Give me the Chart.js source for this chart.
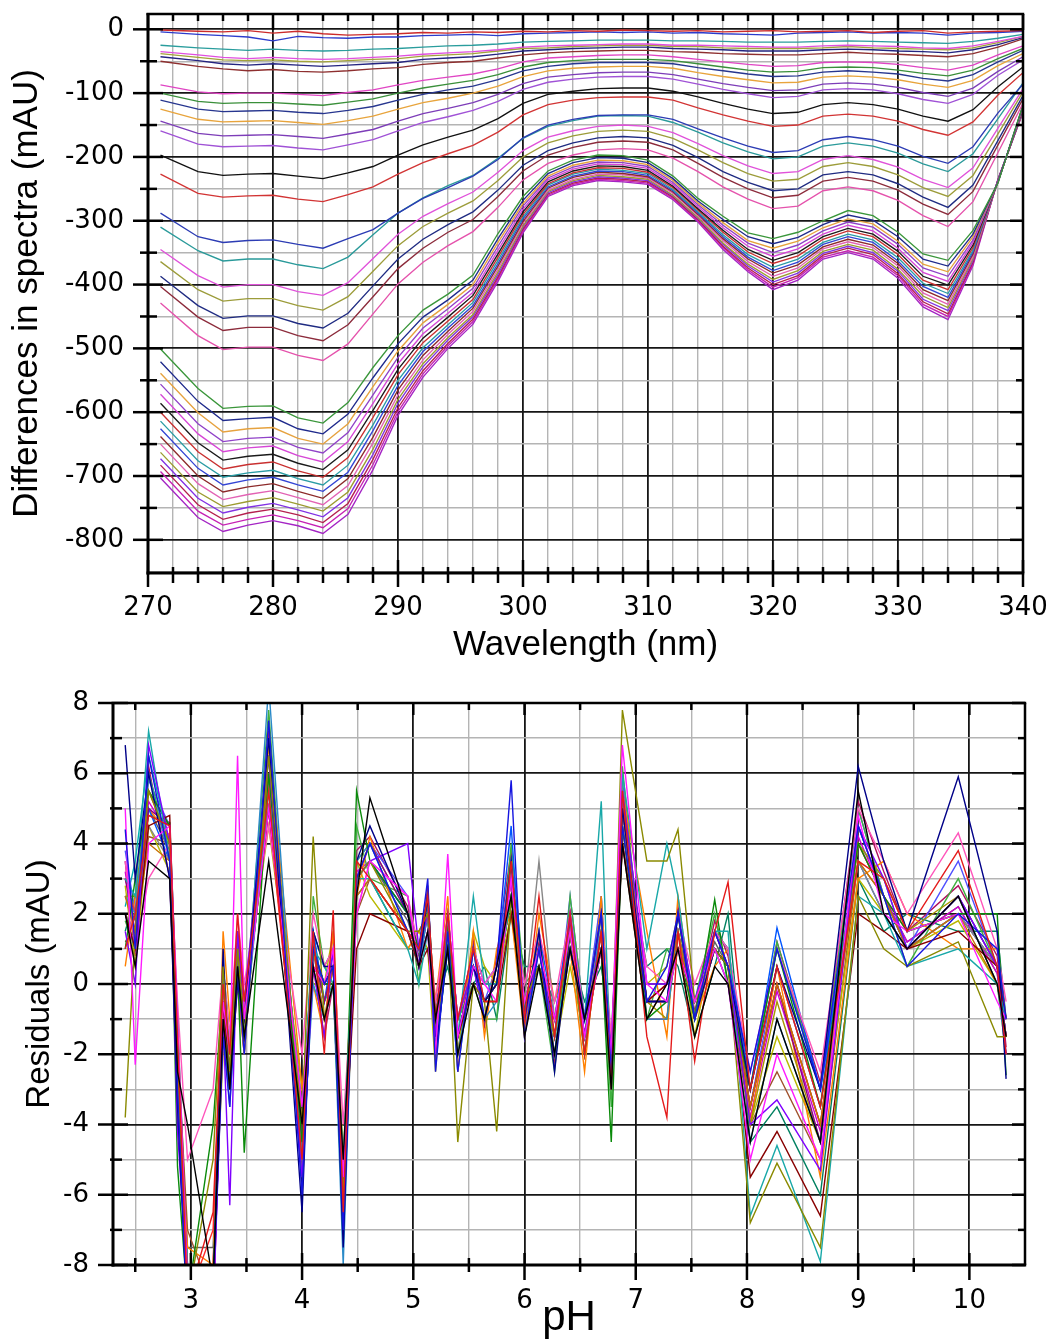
<!DOCTYPE html>
<html><head><meta charset="utf-8"><title>Differences in spectra and residuals</title>
<script src="https://cdn.jsdelivr.net/npm/chart.js@4.4.1/dist/chart.umd.min.js"></script>
<style>
html,body{margin:0;padding:0;background:#fff;}
#w{position:relative;width:1052px;height:1344px;overflow:hidden;background:#fff}
#c1{position:absolute;left:0;top:0}
#c2{position:absolute;left:0;top:690px}
</style></head><body><div id="w">
<canvas id="c1" width="1052" height="690"></canvas>
<canvas id="c2" width="1052" height="654"></canvas>
</div>
<script>
// ---------- top panel: wavelength (nm) and difference spectra (mAU) ----------
const WAVELENGTH = [271,274,276,278,280,282,284,286,288,290,292,294,296,298,300,302,304,306,308,310,312,314,316,318,320,322,324,326,328,330,332,334,336,338,340];

const D01 = [-1,-3,-4,-2,-6,-3,-7,-9,-8,-7,-5,-6,-4,-5,-3,-4,-2,-3,-1,-2,-3,-2,-4,-3,-2,-4,-3,-2,-5,-3,-2,-6,-4,-3,-2];
const D02 = [-4,-8,-10,-12,-18,-11,-13,-14,-12,-12,-10,-9,-8,-10,-7,-6,-5,-4,-5,-4,-6,-5,-7,-8,-9,-6,-5,-4,-6,-5,-6,-9,-6,-5,-3];
const D03 = [-25,-29,-31,-33,-31,-33,-34,-33,-31,-30,-28,-26,-25,-23,-20,-19,-18,-17,-17,-17,-18,-18,-19,-20,-20,-20,-19,-18,-19,-20,-21,-22,-19,-14,-8];
const D04 = [-35,-40,-44,-46,-44,-46,-47,-46,-44,-42,-39,-37,-35,-32,-28,-26,-25,-24,-23,-23,-25,-25,-26,-27,-28,-28,-26,-25,-26,-27,-29,-30,-26,-19,-11];
const D05 = [-38,-44,-48,-49,-48,-50,-51,-49,-47,-46,-42,-40,-38,-34,-30,-29,-27,-26,-25,-25,-27,-27,-29,-30,-30,-30,-29,-27,-29,-30,-31,-32,-29,-21,-11];
const D06 = [-43,-49,-54,-56,-54,-56,-58,-56,-54,-52,-47,-45,-43,-39,-34,-32,-30,-29,-28,-28,-30,-31,-32,-34,-34,-34,-32,-31,-32,-34,-35,-37,-32,-24,-13];
const D07 = [-50,-58,-62,-65,-63,-66,-67,-65,-62,-60,-55,-52,-50,-45,-40,-37,-35,-34,-33,-33,-35,-36,-38,-39,-40,-40,-38,-36,-38,-39,-41,-43,-38,-28,-15];
const D08 = [-87,-98,-101,-100,-100,-102,-104,-99,-95,-87,-80,-75,-70,-62,-51,-45,-43,-41,-40,-40,-43,-47,-51,-55,-58,-57,-52,-51,-52,-55,-60,-64,-56,-40,-26];
const D09 = [-100,-113,-116,-115,-115,-117,-119,-114,-109,-100,-92,-86,-80,-71,-59,-52,-49,-47,-47,-47,-49,-54,-59,-64,-67,-66,-60,-59,-60,-64,-69,-73,-64,-46,-30];
const D10 = [-111,-125,-129,-128,-127,-130,-132,-127,-121,-111,-102,-95,-89,-79,-65,-58,-54,-52,-52,-52,-54,-60,-65,-70,-74,-73,-67,-65,-67,-70,-77,-81,-71,-51,-33];
const D11 = [-125,-141,-145,-144,-143,-146,-149,-143,-136,-125,-115,-108,-100,-89,-74,-65,-61,-59,-58,-58,-61,-68,-74,-79,-84,-83,-75,-73,-75,-79,-86,-91,-80,-57,-38];
const D12 = [-144,-163,-167,-166,-165,-168,-171,-164,-157,-144,-132,-124,-115,-102,-85,-75,-71,-68,-67,-67,-71,-78,-85,-91,-96,-95,-86,-84,-86,-91,-99,-105,-92,-66,-43];
const D13 = [-159,-180,-184,-183,-182,-186,-189,-181,-173,-159,-146,-137,-127,-113,-94,-83,-78,-75,-74,-74,-78,-86,-94,-101,-107,-105,-95,-93,-95,-101,-110,-116,-102,-72,-48];
const D14 = [-197,-223,-229,-227,-226,-230,-234,-225,-215,-197,-181,-169,-158,-140,-116,-102,-97,-93,-92,-92,-97,-106,-116,-125,-132,-130,-118,-115,-118,-125,-136,-144,-126,-90,-59];
const D15 = [-227,-257,-263,-261,-260,-266,-270,-259,-247,-227,-209,-195,-182,-161,-134,-118,-111,-107,-106,-106,-111,-123,-134,-144,-152,-150,-136,-133,-136,-144,-157,-166,-145,-103,-68];
const D16 = [-288,-325,-334,-331,-330,-337,-343,-328,-314,-288,-265,-248,-230,-204,-170,-150,-141,-135,-134,-134,-141,-156,-170,-183,-193,-190,-173,-168,-173,-183,-199,-210,-184,-131,-86];
const D17 = [-310,-347,-363,-360,-360,-369,-375,-357,-322,-288,-264,-245,-229,-202,-171,-152,-143,-136,-135,-136,-146,-161,-178,-192,-203,-200,-183,-178,-183,-194,-211,-223,-195,-140,-84];
const D18 = [-345,-386,-404,-400,-400,-411,-417,-397,-359,-321,-293,-273,-255,-224,-190,-169,-159,-152,-150,-152,-162,-179,-198,-214,-226,-223,-204,-198,-204,-216,-235,-248,-217,-155,-93];
const D19 = [-364,-408,-426,-422,-422,-433,-440,-419,-379,-339,-309,-288,-269,-237,-200,-178,-167,-160,-158,-160,-171,-189,-209,-226,-238,-235,-215,-209,-215,-228,-248,-262,-229,-164,-98];
const D20 = [-387,-433,-453,-449,-449,-461,-468,-445,-402,-360,-329,-306,-286,-252,-213,-190,-178,-170,-168,-170,-182,-201,-223,-240,-253,-250,-228,-223,-228,-242,-263,-279,-244,-174,-104];
const D21 = [-403,-451,-472,-467,-467,-480,-488,-463,-419,-375,-343,-318,-298,-262,-222,-197,-185,-177,-175,-177,-189,-210,-232,-250,-264,-260,-238,-232,-238,-252,-274,-290,-254,-181,-109];
const D22 = [-429,-480,-502,-498,-498,-511,-519,-493,-446,-399,-365,-339,-317,-279,-236,-210,-197,-189,-187,-189,-202,-223,-247,-266,-281,-277,-253,-247,-253,-268,-292,-309,-270,-193,-116];
const D23 = [-501,-563,-594,-591,-590,-609,-617,-585,-530,-480,-440,-415,-385,-320,-262,-222,-205,-197,-198,-205,-230,-265,-293,-319,-328,-318,-300,-284,-292,-318,-352,-362,-315,-241,-118];
const D24 = [-521,-583,-613,-610,-608,-626,-634,-603,-546,-493,-451,-424,-393,-328,-268,-226,-209,-201,-202,-209,-234,-269,-298,-325,-336,-326,-306,-291,-299,-325,-360,-371,-321,-240,-119];
const D25 = [-539,-601,-631,-626,-624,-641,-650,-618,-560,-504,-460,-431,-400,-334,-273,-230,-213,-205,-206,-212,-237,-272,-303,-331,-343,-332,-311,-297,-305,-332,-368,-380,-325,-240,-120];
const D26 = [-556,-618,-646,-641,-639,-655,-664,-632,-573,-514,-468,-438,-406,-340,-277,-233,-216,-208,-209,-215,-240,-275,-307,-335,-350,-338,-316,-302,-310,-337,-374,-387,-330,-239,-121];
const D27 = [-572,-634,-662,-656,-653,-668,-678,-646,-586,-524,-477,-445,-412,-346,-282,-236,-219,-211,-212,-218,-243,-278,-311,-340,-356,-344,-321,-307,-316,-343,-381,-395,-334,-239,-122];
const D28 = [-586,-648,-675,-669,-666,-680,-690,-659,-597,-533,-484,-451,-417,-352,-286,-239,-222,-214,-215,-221,-246,-281,-315,-345,-362,-350,-325,-312,-321,-348,-387,-401,-338,-239,-123];
const D29 = [-600,-662,-689,-682,-678,-692,-702,-671,-608,-541,-491,-457,-423,-357,-290,-242,-225,-217,-218,-224,-248,-283,-318,-349,-367,-355,-329,-316,-325,-353,-393,-408,-342,-238,-124];
const D30 = [-614,-676,-702,-695,-691,-704,-714,-683,-620,-550,-499,-463,-428,-362,-294,-244,-227,-219,-221,-226,-251,-286,-322,-353,-373,-360,-334,-321,-330,-358,-398,-414,-346,-238,-125];
const D31 = [-626,-688,-714,-706,-702,-714,-724,-694,-629,-558,-505,-468,-433,-367,-297,-247,-230,-222,-223,-229,-253,-288,-325,-357,-378,-365,-337,-325,-334,-363,-403,-420,-349,-237,-125];
const D32 = [-638,-700,-725,-717,-712,-724,-735,-704,-639,-565,-511,-473,-437,-371,-301,-249,-232,-224,-226,-231,-255,-290,-328,-360,-382,-369,-341,-329,-338,-367,-408,-425,-352,-237,-126];
const D33 = [-650,-712,-737,-729,-723,-734,-745,-715,-648,-573,-518,-478,-442,-376,-304,-252,-235,-227,-228,-233,-257,-292,-331,-364,-387,-374,-344,-333,-342,-371,-413,-431,-356,-237,-127];
const D34 = [-663,-725,-748,-740,-734,-744,-755,-725,-658,-580,-524,-483,-447,-380,-308,-254,-237,-229,-231,-235,-260,-295,-335,-368,-392,-378,-348,-337,-346,-376,-418,-436,-359,-236,-128];
const D35 = [-673,-735,-758,-749,-743,-753,-764,-734,-666,-586,-529,-487,-450,-384,-310,-256,-239,-231,-233,-237,-261,-296,-337,-371,-396,-382,-351,-340,-350,-379,-423,-441,-362,-236,-128];
const D36 = [-683,-745,-768,-758,-752,-761,-773,-743,-674,-593,-535,-492,-454,-388,-313,-258,-241,-233,-235,-239,-263,-298,-340,-374,-400,-386,-354,-343,-353,-383,-427,-446,-365,-236,-129];
const D37 = [-693,-755,-777,-768,-761,-770,-781,-751,-682,-599,-540,-496,-458,-391,-316,-260,-243,-235,-237,-241,-265,-300,-342,-377,-404,-389,-357,-347,-357,-386,-431,-450,-367,-235,-129];
const D38 = [-703,-765,-787,-777,-770,-778,-790,-760,-690,-605,-545,-500,-462,-395,-319,-262,-245,-237,-239,-243,-267,-302,-345,-380,-408,-393,-360,-350,-360,-390,-435,-455,-370,-235,-130];

const TOP_COLORS = ['#cc2b2b','#2b3bcc','#2a9d9d','#e04fe0','#a3a33a','#242480','#8e2f2f','#e045c4','#3a8f3a','#27368f','#e8a43c','#7d3db8','#a052d6','#111111','#d23434','#2c3cb4','#2a9a9a','#e052da','#9c9c3a','#1f2b82','#8c2b3b','#e552ac',
  '#3a963a','#1f2a8c','#e6a23e','#9042c8','#d646d6','#1a1a1a','#c93030','#2a9ca4','#3344d4','#8c2a2a','#e262b4','#9c9c30','#8232e4','#b4204e','#c622b4','#a424c4'];

// ---------- bottom panel: pH and residuals (mAU) ----------
const PH = [2.41,2.50,2.62,2.81,2.88,2.97,3.20,3.29,3.35,3.42,3.48,3.70,4.00,4.10,4.20,4.28,4.37,4.49,4.61,4.95,5.05,5.13,5.20,5.31,5.40,5.54,5.64,5.75,5.88,6.00,6.13,6.27,6.41,6.54,6.69,6.78,6.88,7.10,7.28,7.38,7.53,7.71,7.83,8.03,8.27,8.66,9.00,9.23,9.44,9.90,10.25,10.33];

const R01 = [2.0,0.5,3.5,3.0,-2.5,-4.0,-8.5,-1.0,-3.0,0.5,-1.5,3.5,-4.0,0.5,-1.0,0.0,-5.0,2.5,5.3,2.0,0.5,1.5,-1.0,1.0,-2.0,0.0,-1.0,0.5,2.5,-1.5,0.5,-2.0,1.0,-1.0,1.0,-3.0,4.0,-1.0,0.0,1.0,-1.5,0.5,0.0,-4.5,-1.0,-4.5,5.5,2.0,1.0,2.5,0.0,-1.5];
const R02 = [1.0,2.0,4.8,4.5,-1.5,-9.0,-6.5,0.0,-2.0,2.0,-0.5,5.5,-5.0,1.5,-2.0,2.1,-6.5,3.5,3.0,1.5,1.0,2.5,-1.0,2.0,-1.0,1.0,-0.5,-0.5,3.5,-1.0,2.5,-1.5,2.0,-2.0,1.5,-3.0,5.5,-1.5,-3.8,1.5,-2.2,1.5,2.9,-3.0,0.5,-3.5,3.5,3.0,1.5,3.8,0.5,-2.0];
const R03 = [4.4,1.0,6.5,3.5,-3.0,-9.5,-9.0,-1.5,-3.5,0.5,-2.0,7.5,-6.0,1.0,0.0,0.5,-7.0,3.0,4.0,1.5,1.0,3.0,-2.5,1.5,-2.5,1.0,-1.0,0.5,5.8,-1.5,1.0,-2.0,1.0,-1.0,2.0,-2.5,4.5,-0.5,0.5,2.0,-1.0,1.5,0.5,-2.5,1.0,-3.0,4.5,2.5,0.5,2.0,1.0,-1.0];
const R04 = [5.0,-2.3,4.0,4.5,-1.0,-8.5,-9.5,-0.5,-2.0,6.5,-1.0,5.0,-3.5,0.5,0.0,1.0,-5.5,2.0,3.5,2.5,0.5,1.5,-2.0,3.7,-1.5,0.5,0.0,-0.5,3.0,-0.5,1.0,-1.0,1.5,-1.5,1.0,-2.0,6.8,0.0,-0.5,1.0,-0.5,1.0,0.0,-5.0,-2.0,-5.0,4.8,2.0,1.5,2.0,-0.5,-1.0];
const R05 = [-3.8,1.5,5.5,4.0,-2.0,-9.0,-5.0,0.5,-2.5,1.0,-1.5,6.5,-4.0,4.2,-1.0,0.0,-6.0,3.0,3.5,1.5,1.5,2.0,-1.0,1.5,-4.5,0.0,-0.5,-4.2,2.5,-0.5,0.5,-1.5,1.5,-2.0,1.5,-2.5,7.8,3.5,3.5,4.4,-0.5,1.0,0.5,-6.8,-5.1,-7.5,2.5,1.0,0.5,1.2,-1.5,-1.5];
const R06 = [6.8,3.0,6.0,3.0,-3.5,-9.5,-9.0,1.0,-3.0,0.0,-1.0,7.0,-6.5,1.5,0.5,0.5,-7.5,3.5,4.5,2.0,0.5,2.5,-2.0,1.0,-1.5,0.5,-0.5,0.0,3.5,-1.0,1.5,-2.5,1.5,-1.0,2.0,-2.5,5.0,-0.5,-0.5,2.0,-1.0,1.0,0.5,-3.0,0.5,-3.0,6.2,3.5,1.5,5.9,1.5,-2.7];
const R07 = [1.5,0.0,6.8,4.0,-4.2,-8.5,-9.5,-1.0,-6.3,1.5,-0.5,6.5,-5.5,0.5,-1.5,1.0,-6.5,3.0,3.5,4.0,1.0,2.0,-1.5,2.0,-1.0,0.5,-1.0,0.5,3.0,-1.0,1.0,-1.5,2.0,-1.5,1.5,-2.0,5.5,0.0,0.0,2.0,-0.5,1.5,0.5,-4.0,-3.3,-5.3,4.5,3.0,1.0,2.5,0.5,-2.0];
const R08 = [3.0,2.5,7.2,3.5,-1.0,-10.0,-8.5,0.0,-2.0,1.0,-1.5,5.5,-3.5,1.0,0.5,0.0,-5.0,3.0,3.0,1.0,0.0,1.5,-2.0,1.0,-1.5,2.5,0.0,0.0,2.5,-0.5,1.0,-1.5,1.0,-1.0,5.2,-3.0,6.0,1.0,4.0,2.5,-1.0,1.5,1.5,-6.6,-4.6,-7.9,2.5,2.0,0.5,1.0,0.0,-1.0];
const R09 = [2.0,1.0,4.5,4.8,-1.5,-8.5,-9.0,-0.5,-2.5,0.5,-1.0,5.0,-3.5,0.5,0.0,0.5,-5.5,1.0,2.0,1.5,0.5,1.0,-1.0,1.0,-1.5,0.0,-0.5,-0.5,2.0,-0.5,0.5,-1.0,1.0,-1.0,1.0,-2.0,4.0,-0.5,0.0,1.0,-0.5,1.0,0.5,-5.5,-4.2,-6.6,2.0,1.5,1.0,1.5,0.5,-1.0];
const R10 = [1.0,3.0,5.5,4.5,-5.2,-9.0,-4.0,0.0,-2.0,0.5,-4.8,6.0,-4.5,1.0,0.0,0.0,-6.0,5.5,3.5,2.0,1.0,2.5,-1.0,1.5,-1.5,0.5,-0.5,0.0,2.5,-0.5,1.0,-1.5,1.5,-1.5,1.0,-4.5,4.5,-1.0,-0.5,1.0,-1.0,2.4,0.0,-3.0,1.0,-3.5,4.0,2.5,1.5,2.0,2.0,-2.6];
const R11 = [2.5,1.5,4.0,3.5,-2.0,-9.5,-9.0,-1.0,-2.5,1.0,-1.0,6.0,-4.0,1.0,-1.0,0.5,-6.0,2.5,3.0,1.5,1.0,2.0,-1.5,1.5,-1.0,0.5,-0.5,0.0,3.0,-1.0,1.0,-1.5,1.5,-1.5,1.5,-2.5,5.0,-0.5,-0.5,1.5,-1.0,1.0,0.5,-3.5,0.0,-4.0,3.5,2.5,1.0,2.0,0.0,-1.5];
const R12 = [3.5,1.0,3.0,4.0,-0.5,-5.0,-3.0,0.5,-1.5,2.0,0.0,4.5,-2.0,2.0,0.5,1.0,-4.0,2.0,3.5,2.5,1.0,2.0,-0.5,2.0,-1.0,1.0,0.0,0.5,2.5,0.0,1.5,-0.5,2.0,-1.0,2.0,-1.5,4.0,0.5,0.0,2.0,0.0,1.5,1.0,-2.5,1.0,-2.5,5.0,3.5,2.0,4.3,1.0,-0.5];
const R13 = [2.5,2.0,6.0,3.5,-2.5,-8.5,-9.0,-1.0,-3.5,0.5,-1.5,8.5,-5.0,0.0,-1.0,0.0,-8.0,3.5,4.0,1.5,0.5,2.0,-2.0,1.0,-2.0,0.5,-1.0,-0.5,3.5,-1.0,0.5,-2.0,1.5,-2.0,2.0,-3.0,5.5,-1.0,-1.0,1.5,-1.0,1.0,0.0,-4.5,-1.0,-4.5,4.5,2.5,1.0,2.5,0.0,-2.0];
const R14 = [3.0,1.5,5.0,4.5,-2.0,-9.0,-9.5,-0.5,-2.5,1.5,-1.0,6.5,-4.5,1.0,-0.5,0.5,-6.5,3.0,4.0,2.0,1.0,2.5,-1.5,1.5,-1.5,0.5,-0.5,0.0,3.0,-1.0,1.0,-1.5,2.0,-1.5,1.5,-2.5,5.0,-0.5,-0.5,1.5,-1.0,1.5,0.5,-3.5,0.0,-4.5,4.5,2.5,1.0,2.5,0.5,-1.5];
const R15 = [2.0,1.5,4.5,3.5,-1.5,-8.5,-9.0,0.0,-2.0,1.0,-0.5,5.5,-4.0,1.0,0.0,0.5,-5.5,2.5,3.0,1.5,0.5,1.5,-1.0,1.5,-1.0,0.5,0.0,0.0,2.5,-0.5,3.5,-1.0,1.5,-1.0,1.5,-2.0,4.5,0.0,0.0,1.0,-0.5,1.0,0.5,-3.0,0.5,-3.5,3.5,2.0,1.0,2.0,0.5,-1.0];
const R16 = [2.5,2.5,5.5,4.5,-2.5,-9.5,-8.5,-0.5,-3.0,0.5,-1.5,7.0,-5.0,1.0,-0.5,0.5,-6.5,3.5,4.0,2.0,1.0,2.0,-1.5,1.5,-2.0,0.5,-0.5,-0.5,3.5,-1.0,1.0,-2.0,1.5,-2.0,2.0,-3.0,5.5,-0.5,-1.0,1.5,-1.0,1.5,0.5,-4.0,-0.5,-4.5,4.0,3.0,1.5,2.5,0.0,-1.5];
const R17 = [2.0,1.0,5.0,3.5,-2.0,-8.5,-9.0,-1.0,-2.5,1.0,-1.0,6.5,-4.0,1.5,-0.5,1.0,-6.0,3.0,3.5,2.0,0.5,2.0,-1.0,2.0,-1.0,1.0,0.0,0.5,4.5,-1.0,1.5,-1.0,2.0,-1.0,2.0,-2.0,5.0,-0.5,-0.5,2.0,-0.5,1.5,1.0,-3.0,1.6,-3.0,3.5,2.0,1.0,2.0,0.5,-1.5];
const R18 = [3.0,2.0,5.5,4.0,-1.5,-9.0,-7.0,0.0,-2.0,1.0,-0.5,5.0,-4.5,0.5,0.0,0.5,-6.0,3.0,3.0,1.5,0.5,2.0,-1.0,1.0,-1.5,0.5,-0.5,0.0,2.5,-0.5,1.0,-1.0,1.5,-1.5,1.0,-2.5,4.5,-0.5,0.0,1.5,-1.0,1.0,0.5,-3.5,0.0,-4.0,4.0,2.5,1.5,2.0,0.5,-1.5];
const R19 = [0.5,2.5,5.0,4.2,-3.0,-7.5,-8.0,1.5,-1.0,0.0,-2.0,6.8,-3.0,0.0,-1.5,1.5,-7.0,2.5,4.2,1.0,1.5,2.0,-0.5,2.5,-2.5,1.5,-1.5,1.0,2.0,-1.5,2.0,-0.5,1.0,-2.5,2.5,-2.0,5.5,1.5,-1.5,2.5,-1.0,0.5,1.0,-4.0,0.5,-5.5,3.0,3.5,2.0,1.0,1.0,-1.0];
const R20 = [1.8,1.0,6.0,3.8,-2.5,-8.0,-8.5,-0.5,-3.0,1.0,-1.0,7.8,-5.5,2.5,0.5,0.0,-7.0,4.5,3.0,2.5,0.0,2.5,-1.5,1.0,-1.0,0.0,-1.0,-1.0,4.0,0.0,0.5,-2.5,2.5,-1.0,1.0,-3.5,6.2,-1.0,1.0,1.0,-0.5,2.0,0.0,-3.0,1.2,-3.0,5.0,2.5,0.5,3.0,0.5,-1.0];
const R21 = [2.8,0.5,4.5,3.2,-1.0,-9.0,-8.0,-2.0,-1.5,1.5,-0.5,4.5,-3.0,0.0,0.0,1.5,-5.0,3.5,2.5,1.0,1.5,1.0,-2.5,2.0,-2.0,1.5,0.5,0.0,2.0,-1.0,1.5,-2.0,0.5,-1.5,2.0,-2.0,4.5,0.0,0.5,2.0,-1.5,1.5,1.0,-4.0,-1.5,-4.5,3.0,2.0,1.0,1.8,0.0,-2.0];
const R22 = [3.8,2.0,5.8,4.5,-2.0,-8.0,-9.5,0.5,-2.0,0.0,-1.5,7.0,-5.0,1.0,-1.0,0.0,-6.5,3.0,4.0,2.5,0.5,2.5,-1.0,2.0,-2.0,1.0,-0.5,0.5,3.5,-1.5,1.0,-1.5,2.5,-1.0,2.5,-2.0,5.8,-0.5,-0.5,1.5,-1.0,1.5,0.5,-3.5,0.5,-3.5,5.0,2.5,1.0,3.5,0.5,-1.5];
const R23 = [1.2,1.5,4.2,4.0,-1.8,-7.0,-9.0,0.0,-2.5,1.0,-1.0,5.0,-4.0,1.0,0.0,0.5,-6.0,2.0,3.0,1.5,0.5,1.5,-1.0,1.0,-1.5,0.5,-0.5,0.0,2.5,-0.5,1.0,-1.0,1.5,-1.5,1.0,-2.5,4.0,-1.0,0.0,1.0,-0.5,1.0,0.0,-4.0,-2.5,-5.0,3.5,2.5,1.0,2.0,0.5,-1.0];
const R24 = [2.2,3.5,6.5,4.0,-2.5,-9.0,-9.0,-1.0,-3.0,0.5,-2.0,7.0,-5.0,1.5,-0.5,0.0,-7.0,3.0,3.5,2.0,1.0,2.0,-2.0,1.5,-2.5,1.0,-1.0,0.5,3.0,-1.0,1.5,-2.0,1.5,-1.5,2.5,-3.0,5.5,-0.5,-0.5,2.0,-1.0,1.5,1.0,-3.0,1.0,-3.0,4.0,3.0,1.0,2.5,0.5,-1.5];
const R25 = [3.2,1.2,5.2,4.2,-2.2,-8.5,-8.0,-0.5,-2.5,1.5,-1.0,6.0,-4.5,1.0,-0.5,0.5,-6.5,3.2,3.5,2.0,1.0,2.0,-1.5,1.5,-1.5,0.5,-0.5,0.0,3.0,-1.0,1.0,-1.5,1.5,-1.5,1.5,-2.5,5.2,-0.5,-0.5,1.5,-1.0,1.0,0.5,-3.8,-0.2,-4.2,4.2,2.5,1.2,2.2,0.3,-1.5];
const R26 = [2.5,1.8,5.0,3.8,-2.0,-7.5,-7.5,-0.5,-2.5,1.0,-1.0,6.0,-4.5,1.0,-0.5,0.5,-6.0,3.0,3.5,1.8,0.8,2.0,-1.5,1.5,-1.5,0.5,-0.5,0.0,3.0,-0.8,1.0,-1.5,1.5,-1.5,1.5,-2.5,5.0,-0.5,-0.5,1.5,-0.8,1.2,0.5,-3.5,0.0,-4.0,4.0,2.5,1.2,2.2,0.3,-1.5];
const R27 = [1.5,2.5,4.8,4.6,-1.0,-8.0,-8.5,0.5,-1.5,0.5,-0.5,5.8,-4.0,1.5,0.5,1.0,-5.5,2.5,3.0,1.0,1.0,1.0,-0.5,0.5,-1.0,0.0,0.5,-1.0,2.0,0.5,0.5,-0.5,1.0,-0.5,0.5,-1.5,4.5,0.5,1.0,0.5,-1.5,0.5,2.0,-4.5,-3.5,-6.0,3.0,1.5,2.0,1.5,1.5,-1.0];
const R28 = [3.5,0.8,6.2,3.0,-3.0,-9.0,-8.5,-1.5,-3.0,0.0,-2.0,7.2,-5.5,0.5,-1.5,0.0,-7.0,3.8,4.2,2.2,0.5,2.8,-2.2,1.8,-2.0,1.2,-1.2,0.8,3.8,-1.2,1.2,-2.2,1.8,-2.0,2.2,-2.8,5.5,-1.0,-1.0,2.2,-0.8,1.8,0.8,-3.0,1.2,-2.8,5.2,3.2,1.5,2.8,0.8,-1.8];

const RES_COLORS = ['#000000','#e41a1a','#1515e0','#ff1aff','#8a8a00','#000088','#7f00ff','#18a8a8','#880000','#0a8a0a','#c87000','#ff55bb','#2a8ac8','#8a008a','#888888','#a89400','#0055ff','#ff2a2a',
  '#ff8000','#40b040','#b8b800','#5050ff','#a0522d','#00b0b0','#d000d0','#606060','#008060','#b01060'];

// ---------- tick positions ----------
const TOP_X_TICKS = []; for (let v = 270; v <= 340; v += 2) TOP_X_TICKS.push(v);
const TOP_Y_TICKS = []; for (let v = -850; v <= 0; v += 50) TOP_Y_TICKS.push(v);
const BOT_X_TICKS = []; for (let i = 5; i <= 21; i++) BOT_X_TICKS.push(i / 2);
const BOT_Y_TICKS = []; for (let v = -8; v <= 8; v++) BOT_Y_TICKS.push(v);

// ---------- styling ----------
Chart.defaults.font.family = 'Liberation Sans';
const F_TICK = {family: 'DejaVu Sans', size: 26};
const F_TITLE = {family: 'Liberation Sans', size: 35};
const GRID_MAJ = '#161616', GRID_MIN = '#b4b4b4';

function mkDecor(c) {
  return {
    id: 'decor',
    afterDraw(chart) {
      const ctx = chart.ctx, a = chart.chartArea, xs = chart.scales.x, ys = chart.scales.y;
      ctx.save();
      ctx.strokeStyle = '#000';
      ctx.lineCap = 'butt';
      const seg = (x1, y1, x2, y2, w) => { ctx.lineWidth = w; ctx.beginPath(); ctx.moveTo(x1, y1); ctx.lineTo(x2, y2); ctx.stroke(); };
      seg(a.left - 1.5, a.top, a.right + 1.2, a.top, c.fw);
      seg(a.right, a.top, a.right, a.bottom, c.fw);
      seg(a.left, a.top - 1, a.left, a.bottom + 1.5, c.aw);
      seg(a.left - 1.5, a.bottom, a.right + 1.2, a.bottom, c.aw);
      const doX = (vals, t) => vals.forEach(v => { const p = xs.getPixelForValue(v); seg(p, a.bottom - t[1], p, a.bottom + t[0], c.tw); seg(p, a.top, p, a.top + t[2], c.tw); });
      const doY = (vals, t) => vals.forEach(v => { const p = ys.getPixelForValue(v); seg(a.left - t[0], p, a.left + t[1], p, c.tw); seg(a.right - t[2], p, a.right, p, c.tw); });
      doX(c.xMaj, c.bMaj); doX(c.xMin, c.bMin); doY(c.yMaj, c.lMaj); doY(c.yMin, c.lMin);
      ctx.restore();
    }
  };
}

function lineSets(series, xs, colors, w) {
  return series.map((s, i) => ({
    data: s.map((v, j) => ({x: xs[j], y: v})),
    borderColor: colors[i % colors.length],
    borderWidth: w, pointRadius: 0, fill: false, tension: 0
  }));
}

// ---------- top chart ----------
const TOP_SERIES = [D01,D02,D03,D04,D05,D06,D07,D08,D09,D10,D11,D12,D13,D14,D15,D16,D17,D18,D19,D20,D21,D22,D23,D24,D25,D26,D27,D28,D29,D30,D31,D32,D33,D34,D35,D36,D37,D38];
const topMaj = v => v % 10 === 0;
const topYMaj = v => v % 100 === 0;

new Chart(document.getElementById('c1'), {
  type: 'line',
  data: {datasets: lineSets(TOP_SERIES, WAVELENGTH, TOP_COLORS, 1.35)},
  options: {
    responsive: false, animation: false, devicePixelRatio: 1, events: [],
    layout: {padding: {left: 0, right: 29, top: 14, bottom: 0}},
    plugins: {legend: {display: false}, tooltip: {enabled: false}},
    scales: {
      x: {
        type: 'linear', min: 270, max: 340, bounds: 'data',
        afterBuildTicks: s => { s.ticks = TOP_X_TICKS.map(v => ({value: v})); },
        afterFit: s => { s.height = 117; s.paddingLeft = 0; s.paddingRight = 0; },
        ticks: {autoSkip: false, maxRotation: 0, minRotation: 0, padding: 20, font: F_TICK, color: '#000',
          callback: v => topMaj(v) ? String(v) : ''},
        grid: {drawTicks: false, color: c => (c.tick && topMaj(c.tick.value)) ? GRID_MAJ : GRID_MIN,
          lineWidth: c => (c.tick && topMaj(c.tick.value)) ? 1.8 : 1.4},
        border: {display: false},
        title: {display: true, text: 'Wavelength (nm)', font: F_TITLE, color: '#000', padding: {top: 0, bottom: 24}}
      },
      y: {
        type: 'linear', min: -852, max: 24, bounds: 'data',
        afterBuildTicks: s => { s.ticks = TOP_Y_TICKS.map(v => ({value: v})); },
        afterFit: s => { s.width = 148; s.paddingTop = 0; s.paddingBottom = 0; },
        ticks: {autoSkip: false, padding: 24, font: F_TICK, color: '#000',
          callback: v => topYMaj(v) ? String(v) : ''},
        grid: {drawTicks: false, color: c => (c.tick && topYMaj(c.tick.value)) ? GRID_MAJ : GRID_MIN,
          lineWidth: c => (c.tick && topYMaj(c.tick.value)) ? 1.8 : 1.4},
        border: {display: false},
        title: {display: true, text: 'Differences in spectra (mAU)', font: F_TITLE, color: '#000', padding: {top: 6, bottom: 0}}
      }
    }
  },
  plugins: [mkDecor({
    fw: 2.5, aw: 3, tw: 2.5,
    xMaj: [270,280,290,300,310,320,330,340],
    xMin: TOP_X_TICKS.filter(v => !topMaj(v)),
    yMaj: [-800,-700,-600,-500,-400,-300,-200,-100,0],
    yMin: [-750,-650,-550,-450,-350,-250,-150,-50],
    bMaj: [14, 13, 16], bMin: [10, 6, 7],
    lMaj: [15, 15, 13], lMin: [8, 9, 7]
  })]
});

// ---------- bottom chart ----------
const RES_SERIES = [R01,R02,R03,R04,R05,R06,R07,R08,R09,R10,R11,R12,R13,R14,R15,R16,R17,R18,R19,R20,R21,R22,R23,R24,R25,R26,R27,R28];
const botXMaj = v => Math.abs(v - Math.round(v)) < 1e-6;
const botYMaj = v => Math.round(v) % 2 === 0;

new Chart(document.getElementById('c2'), {
  type: 'line',
  data: {datasets: lineSets(RES_SERIES, PH, RES_COLORS, 1.4)},
  options: {
    responsive: false, animation: false, devicePixelRatio: 1, events: [],
    layout: {padding: {left: 0, right: 27, top: 13, bottom: 0}},
    plugins: {legend: {display: false}, tooltip: {enabled: false}},
    scales: {
      x: {
        type: 'linear', min: 2.3, max: 10.5, bounds: 'data',
        afterBuildTicks: s => { s.ticks = BOT_X_TICKS.map(v => ({value: v})); },
        afterFit: s => { s.height = 79; s.paddingLeft = 0; s.paddingRight = 0; },
        ticks: {autoSkip: false, maxRotation: 0, minRotation: 0, padding: 21, font: F_TICK, color: '#000',
          callback: v => (botXMaj(v) && v >= 3 && v <= 10) ? String(Math.round(v)) : ''},
        grid: {drawTicks: false, color: c => (c.tick && botXMaj(c.tick.value)) ? GRID_MAJ : GRID_MIN,
          lineWidth: c => (c.tick && botXMaj(c.tick.value)) ? 1.8 : 1.4},
        border: {display: false},
        title: {display: true, text: 'pH', font: {family: 'Liberation Sans', size: 42}, color: '#000', padding: {top: 0, bottom: 0}}
      },
      y: {
        type: 'linear', min: -8, max: 8, bounds: 'data',
        afterBuildTicks: s => { s.ticks = BOT_Y_TICKS.map(v => ({value: v})); },
        afterFit: s => { s.width = 113; s.paddingTop = 0; s.paddingBottom = 0; },
        ticks: {autoSkip: false, padding: 24, font: F_TICK, color: '#000',
          callback: v => botYMaj(v) ? String(v) : ''},
        grid: {drawTicks: false, color: c => (c.tick && botYMaj(c.tick.value)) ? GRID_MAJ : GRID_MIN,
          lineWidth: c => (c.tick && botYMaj(c.tick.value)) ? 1.8 : 1.4},
        border: {display: false},
        title: {display: true, text: 'Residuals (mAU)', font: {family: 'Liberation Sans', size: 33}, color: '#000', padding: {top: 20, bottom: 0}}
      }
    }
  },
  plugins: [mkDecor({
    fw: 2.5, aw: 3, tw: 2.5,
    xMaj: [3,4,5,6,7,8,9,10],
    xMin: [2.5,3.5,4.5,5.5,6.5,7.5,8.5,9.5],
    yMaj: [-8,-6,-4,-2,0,2,4,6,8],
    yMin: [-7,-5,-3,-1,1,3,5,7],
    bMaj: [15, 12, 12], bMin: [7, 7, 7],
    lMaj: [15, 15, 13], lMin: [3, 9, 7]
  })]
});
</script></body></html>
